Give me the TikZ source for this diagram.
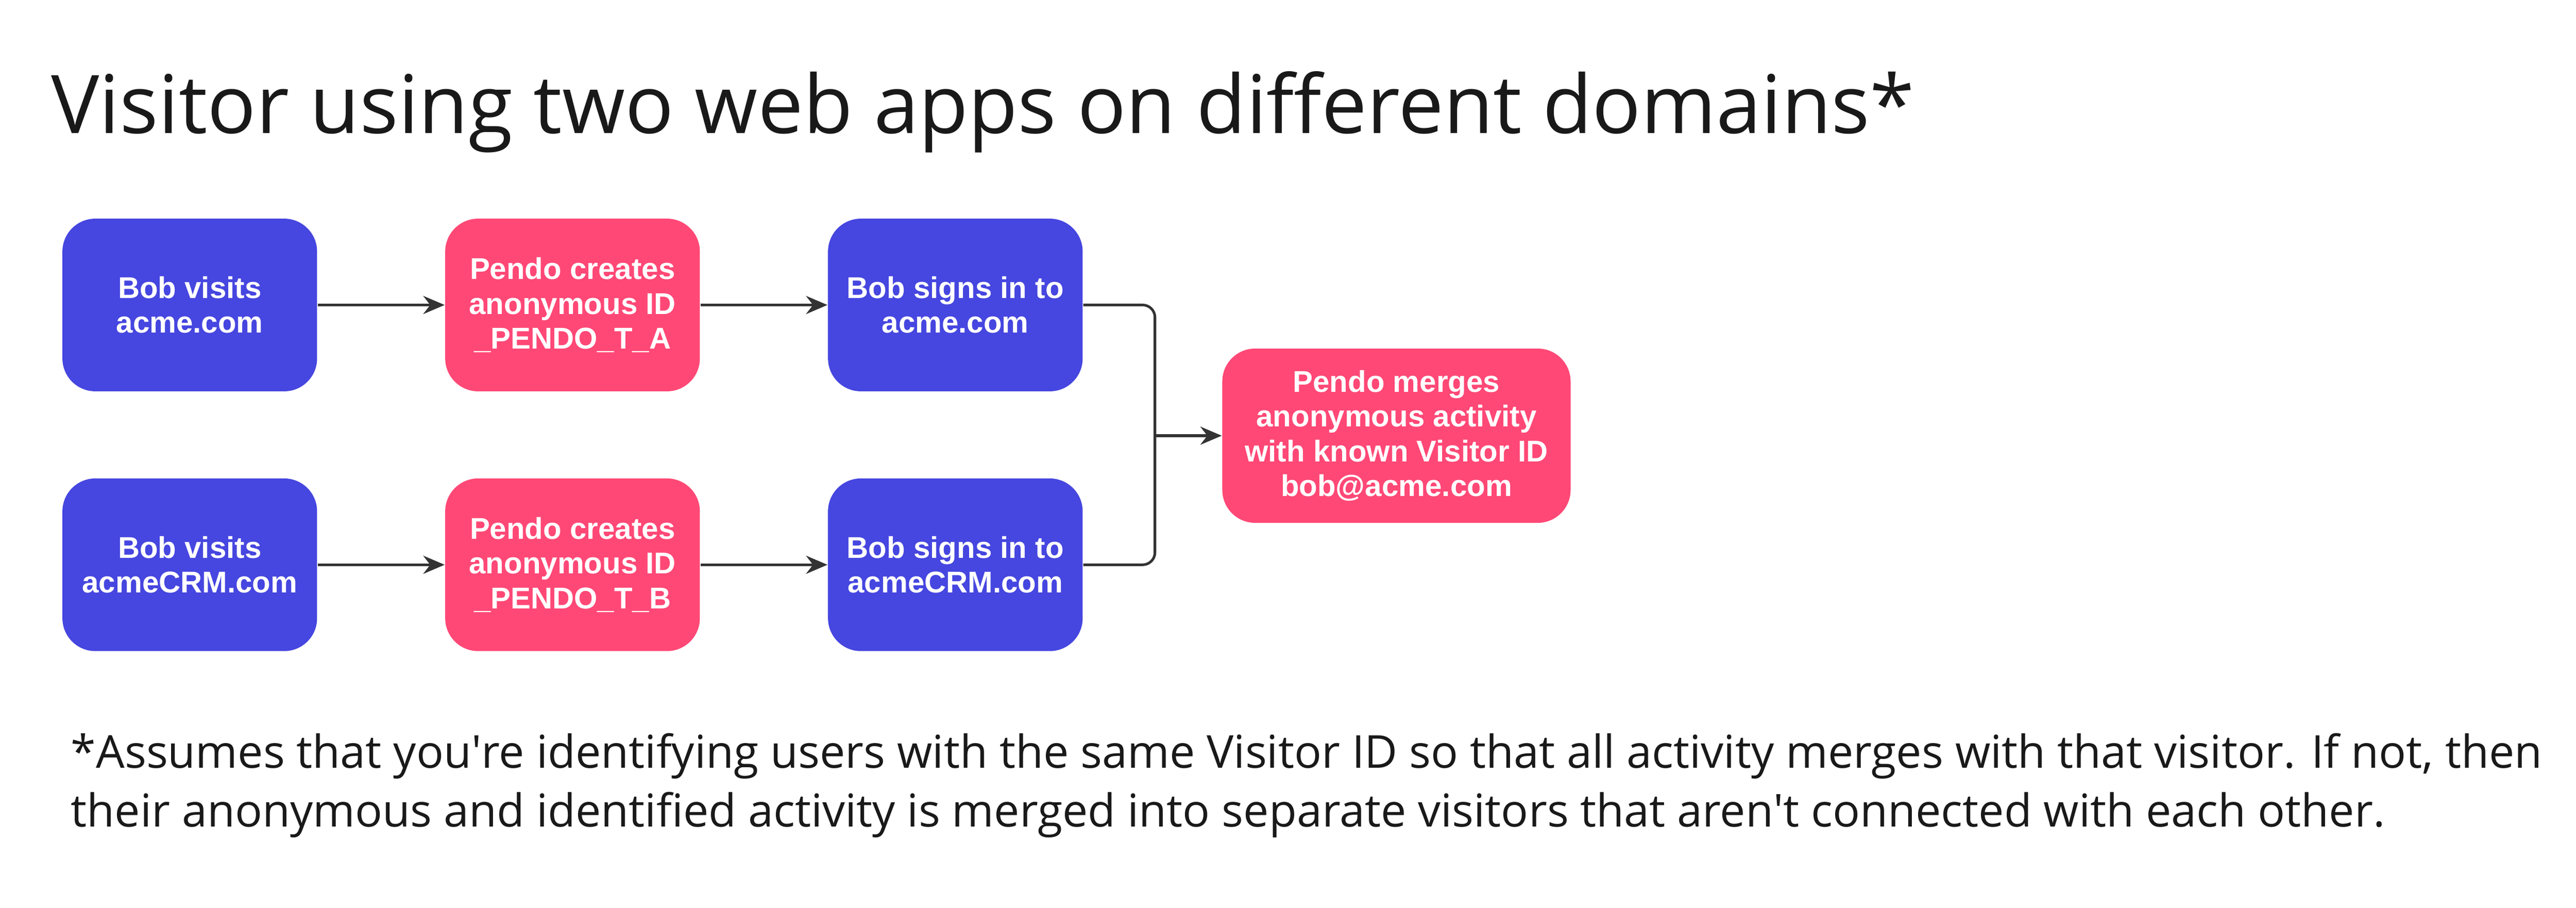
\documentclass[tikz,border=0pt]{standalone}
\usepackage{fontspec}
\setmainfont{Open Sans}
\newfontfamily\boxfont{Liberation Sans}
\usetikzlibrary{arrows.meta,positioning}
\definecolor{pendoblue}{HTML}{4646E0}
\definecolor{pendopink}{HTML}{FF4876}
\definecolor{linegray}{HTML}{333333}
\tikzset{
  blueblock/.style={rectangle, rounded corners=0.4cm, fill=pendoblue, text=white, align=center,
    font=\boxfont\bfseries\fontsize{10.4}{12}\selectfont, minimum width=3.1cm, minimum height=2.1cm},
  pinkblock/.style={blueblock, fill=pendopink},
  flow/.style={-{Stealth[length=2.6mm,width=2.2mm]}, line width=0.9pt, draw=linegray},
  joinline/.style={line width=0.9pt, draw=linegray, rounded corners=0.15cm},
}
\begin{document}
\begin{tikzpicture}
\useasboundingbox (0,0) rectangle (31.36,-11.04);

\node[anchor=base west, text=black!90, font=\fontsize{28}{34}\selectfont] (title) at (0.50,-1.62) {Visitor using two web apps on different domains*};

\node[blueblock] (a1) at (2.31,-3.71) {Bob visits\\acme.com};
\node[pinkblock] (a2) at (6.97,-3.71) {Pendo creates\\anonymous ID\\\_PENDO\_T\_A};
\node[blueblock] (a3) at (11.63,-3.71) {Bob signs in to\\acme.com};
\node[blueblock] (b1) at (2.31,-6.87) {Bob visits\\acmeCRM.com};
\node[pinkblock] (b2) at (6.97,-6.87) {Pendo creates\\anonymous ID\\\_PENDO\_T\_B};
\node[blueblock] (b3) at (11.63,-6.87) {Bob signs in to\\acmeCRM.com};
\node[pinkblock, minimum width=4.24cm, minimum height=2.12cm] (merge) at (17.0,-5.30) {Pendo merges\\anonymous activity\\with known Visitor ID\\bob@acme.com};

\coordinate (junc) at (14.06,-5.30);

\draw[flow] (a1) -- (a2);
\draw[flow] (a2) -- (a3);
\draw[flow] (b1) -- (b2);
\draw[flow] (b2) -- (b3);
\draw[joinline] (a3.east) -| (junc);
\draw[joinline] (b3.east) -| (junc);
\draw[flow] (junc) -- (merge.west);

\node[anchor=base west, align=left, text=black!90, font=\fontsize{15.7}{20.4}\selectfont] (note) at (0.74,-10.06)
  {*Assumes that you\textquotesingle re identifying users with the same Visitor ID so that all activity merges with that visitor. If not, then\\
   their anonymous and identified activity is merged into separate visitors that aren\textquotesingle t connected with each other.};
\end{tikzpicture}
\end{document}
